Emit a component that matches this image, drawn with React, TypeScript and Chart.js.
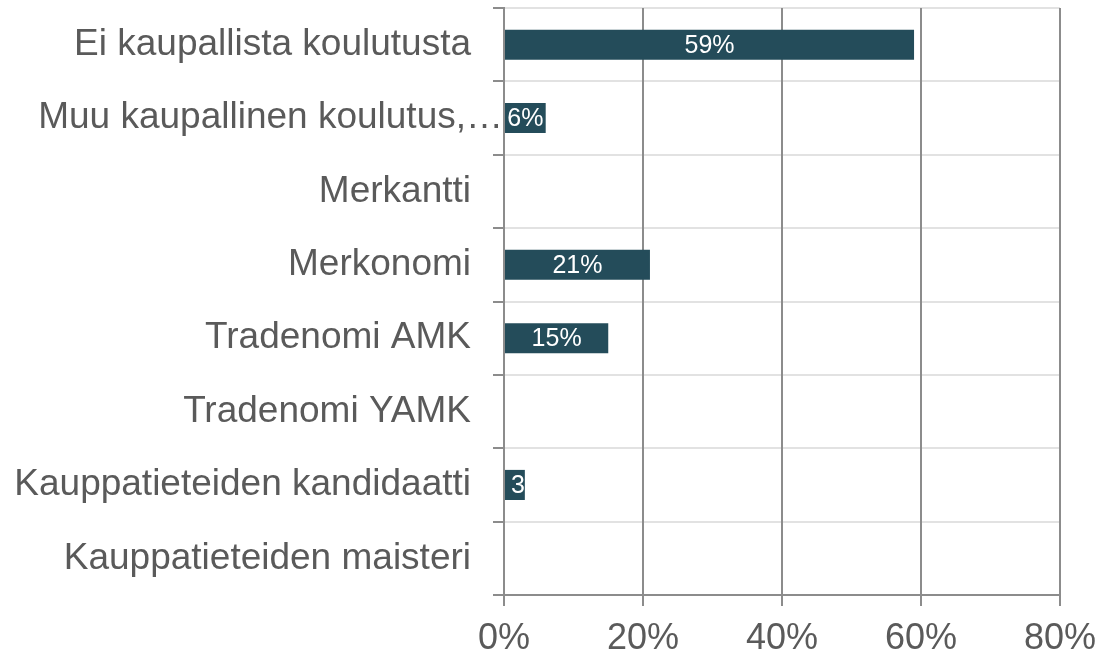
import React, { useEffect, useRef } from 'react';
import { Chart, registerables } from 'chart.js';

Chart.register(...registerables);

const categories = [
  'Ei kaupallista koulutusta',
  'Muu kaupallinen koulutus,…',
  'Merkantti',
  'Merkonomi',
  'Tradenomi AMK',
  'Tradenomi YAMK',
  'Kauppatieteiden kandidaatti',
  'Kauppatieteiden maisteri',
];
const values = [59, 6, 0, 21, 15, 0, 3, 0];
const xMin = 0;
const xMax = 80;
const xStep = 20;
// category whose truncated label overflows towards the axis (as in the original)
const overflowIndex = 1;

const FONT = '"Liberation Sans", Arial, sans-serif';
const BAR = '#244c5a';
const TEXT = '#5a5a5a';
const DARK_GRID = '#8c8c8c';
const LIGHT_GRID = '#e2e2e2';

const labelPlugin = {
  id: 'barLabels',
  afterDatasetsDraw(chart: any) {
    const ctx = chart.ctx;
    const meta = chart.getDatasetMeta(0);
    ctx.save();
    ctx.font = `25px ${FONT}`;
    ctx.fillStyle = '#ffffff';
    ctx.textBaseline = 'middle';
    meta.data.forEach((el: any, i: number) => {
      const v = values[i];
      if (!v) return;
      const { x, y, base, height } = el.getProps(['x', 'y', 'base', 'height'], true);
      const left = Math.min(x, base);
      const w = Math.abs(x - base);
      const text = `${v}%`;
      const tw = ctx.measureText(text).width;
      ctx.save();
      ctx.beginPath();
      ctx.rect(left, y - height / 2, w, height);
      ctx.clip();
      if (tw + 4 <= w) {
        ctx.textAlign = 'center';
        ctx.fillText(text, left + w / 2, y + 1);
      } else {
        ctx.textAlign = 'left';
        ctx.fillText(text, left + 6, y + 1);
      }
      ctx.restore();
    });
    ctx.restore();
  },
  afterDraw(chart: any) {
    const ctx = chart.ctx;
    const yScale = chart.scales.y;
    const yPos = yScale.getPixelForValue(overflowIndex);
    ctx.save();
    ctx.font = `37px ${FONT}`;
    ctx.fillStyle = TEXT;
    ctx.textAlign = 'right';
    ctx.textBaseline = 'middle';
    ctx.fillText(categories[overflowIndex], chart.chartArea.left - 1, yPos);
    ctx.restore();
  },
};

export default function App() {
  const ref = useRef<HTMLCanvasElement>(null);
  useEffect(() => {
    if (!ref.current) return;
    const chart = new Chart(ref.current, {
      type: 'bar',
      data: {
        labels: categories,
        datasets: [
          {
            data: values,
            backgroundColor: BAR,
            borderWidth: 0,
            categoryPercentage: 1,
            barPercentage: 0.41,
          },
        ],
      },
      options: {
        indexAxis: 'y',
        animation: false,
        responsive: false,
        maintainAspectRatio: false,
        layout: { padding: { top: 8, right: 49, left: 0, bottom: 0 } },
        plugins: {
          legend: { display: false },
          tooltip: { enabled: false },
        },
        scales: {
          y: {
            type: 'category',
            offset: true,
            grid: {
              offset: true,
              color: LIGHT_GRID,
              tickColor: DARK_GRID,
              lineWidth: 2,
              tickLength: 11,
              drawOnChartArea: true,
            },
            border: { color: DARK_GRID, width: 2 },
            ticks: {
              color: (c: any) => (c.index === overflowIndex ? 'rgba(0,0,0,0)' : TEXT),
              font: { family: FONT, size: 37 },
              padding: 22,
              autoSkip: false,
            },
            afterFit(scale: any) {
              scale.width = 504;
              scale.paddingTop = 0;
              scale.paddingBottom = 0;
            },
          },
          x: {
            type: 'linear',
            min: xMin,
            max: xMax,
            grid: {
              color: DARK_GRID,
              tickColor: DARK_GRID,
              lineWidth: 2,
              tickLength: 11,
            },
            border: { color: DARK_GRID, width: 2 },
            ticks: {
              stepSize: xStep,
              color: TEXT,
              font: { family: FONT, size: 36 },
              padding: 11,
              callback: (v: any) => `${v}%`,
            },
            afterFit(scale: any) {
              scale.height = 62;
              scale.paddingLeft = 0;
              scale.paddingRight = 0;
            },
          },
        },
      },
      plugins: [labelPlugin],
    });
    return () => chart.destroy();
  }, []);
  return (
    <div style={{ position: 'absolute', left: 0, top: 0, width: 1109, height: 657, background: '#fff' }}>
      <canvas ref={ref} width={1109} height={657} style={{ width: 1109, height: 657, display: 'block' }} />
    </div>
  );
}
